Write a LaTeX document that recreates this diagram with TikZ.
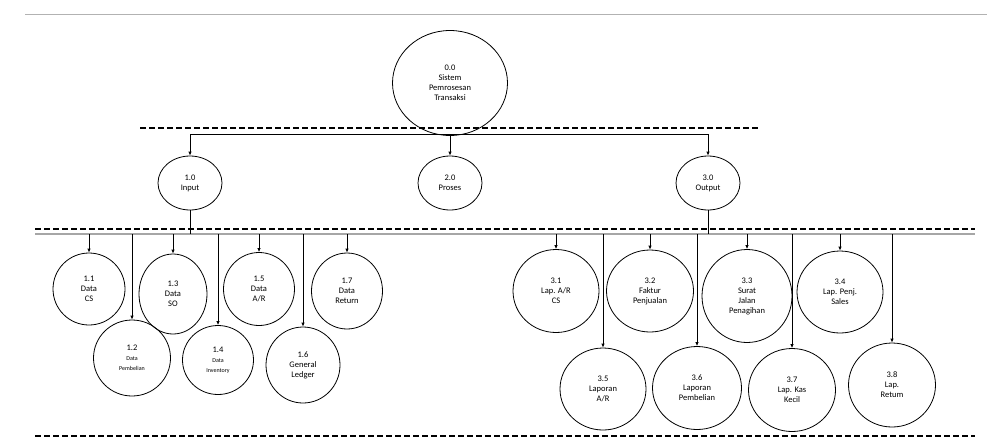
\documentclass[tikz,border=0pt]{standalone}
\usepackage{fontspec}
\setmainfont{Carlito}
\usetikzlibrary{shapes.geometric,arrows.meta}
\newcommand{\smalltxt}[1]{{\fontsize{6}{7}\selectfont #1}}
\begin{document}
\begin{tikzpicture}[x=1pt,y=-1pt,
  proc/.style={draw,thick,ellipse,inner sep=0pt,align=center,font=\fontsize{8.5}{10}\selectfont},
  sep/.style={dashed,line width=1.6pt,dash pattern=on 6pt off 3pt},
  bus/.style={gray!70,line width=1.2pt},
  flow/.style={-{Latex[length=4pt,width=3.5pt]},thick}]
\useasboundingbox (0,0) rectangle (987,445);
\draw[gray!60,line width=1pt] (25,14) -- (987,14);

% level 0
\node[proc,minimum width=115,minimum height=105] (p0) at (450,83) {0.0\\Sistem\\Pemrosesan\\Transaksi};
\node[proc,minimum width=64,minimum height=54] (p1) at (190,183) {1.0\\Input};
\node[proc,minimum width=64,minimum height=54] (p2) at (450,183) {2.0\\Proses};
\node[proc,minimum width=64,minimum height=54] (p3) at (708,183) {3.0\\Output};

\draw[sep] (140,128) -- (760,128);
\coordinate (b1) at (190,134); \coordinate (b2) at (450,134); \coordinate (b3) at (708,134);
\draw[thick] (b1) -- (b3);
\draw[flow] (p0) -- (p2);
\draw[flow] (b1) -- (p1);
\draw[flow] (b3) -- (p3);

% level 1
\draw[sep] (35,229) -- (975,229);
\draw[bus] (35,234) -- (975,234);
\draw[sep] (35,436) -- (975,436);
\coordinate (i1) at (190,234); \coordinate (o1) at (708,234);
\draw[thick] (p1) -- (i1);
\draw[thick] (p3) -- (o1);

\foreach \n/\x/\y/\w/\h/\t in {
  11/89/289/72/72/{1.1\\Data\\CS},
  12/132/358/77/76/{1.2\\\smalltxt{Data}\\\smalltxt{Pembelian}},
  13/173/294/68/80/{1.3\\Data\\SO},
  14/218/360/71/69/{1.4\\\smalltxt{Data}\\\smalltxt{Inventory}},
  15/259/289/71/73/{1.5\\Data\\A/R},
  16/303/365/74/76/{1.6\\General\\Ledger},
  17/347/291/71/76/{1.7\\Data\\Return},
  31/556/291/86/83/{3.1\\Lap. A/R\\CS},
  32/650/291/87/82/{3.2\\Faktur\\Penjualan},
  33/747/296/90/93/{3.3\\Surat\\Jalan\\Penagihan},
  34/840/292/86/82/{3.4\\Lap. Penj.\\Sales},
  35/603/389/86/82/{3.5\\Laporan\\A/R},
  36/697/388/89/83/{3.6\\Laporan\\Pembelian},
  37/792/390/87/83/{3.7\\Lap. Kas\\Kecil},
  38/892/385/87/84/{3.8\\Lap.\\Retum}} {
  \node[proc,minimum width=\w,minimum height=\h] (n\n) at (\x,\y) {\t};
  \coordinate (c\n) at (\x,234);
  \draw[flow] (c\n) -- (n\n);
}
\end{tikzpicture}
\end{document}
